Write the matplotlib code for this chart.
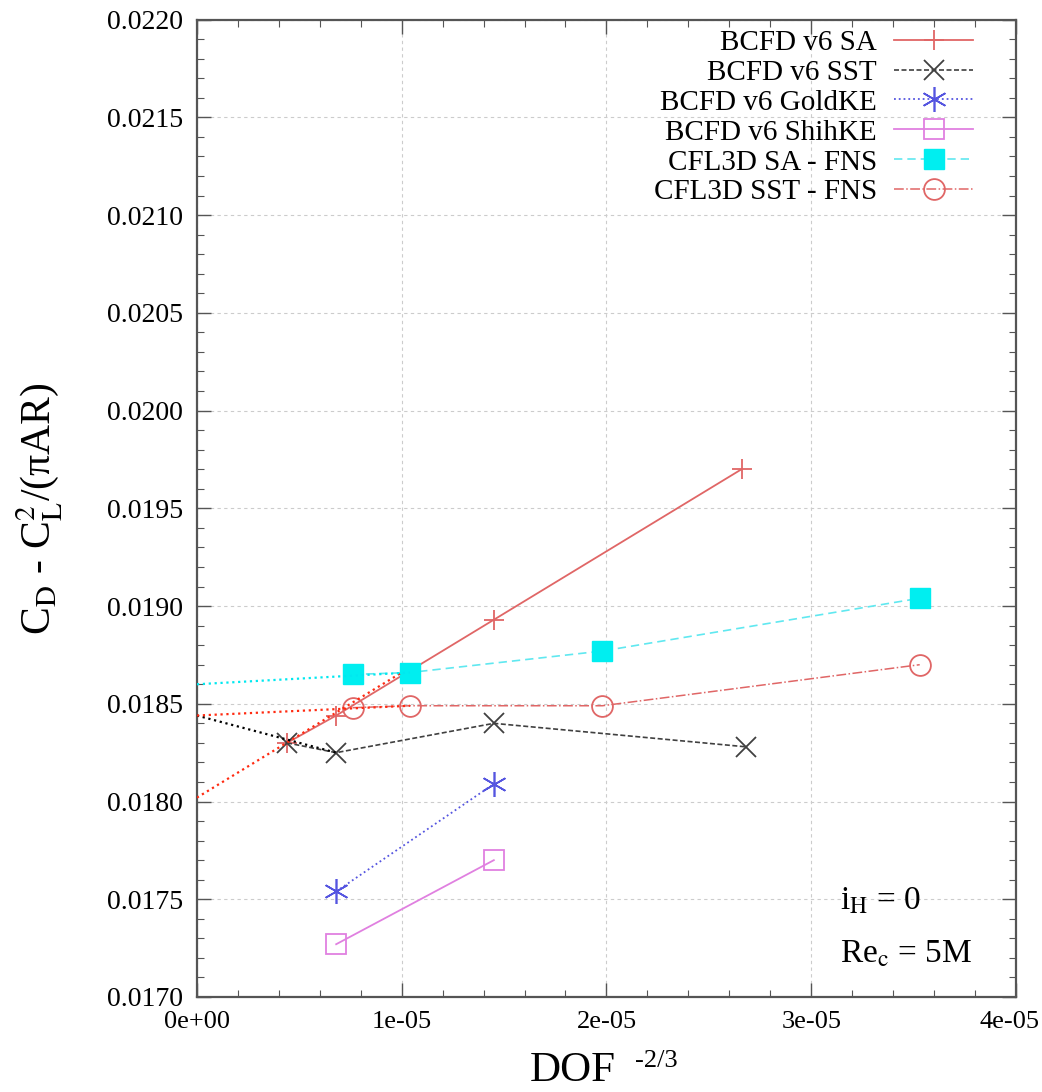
import numpy as np
import matplotlib
matplotlib.use("Agg")
import matplotlib.pyplot as plt
import matplotlib.transforms as mtrans
from matplotlib.ticker import MultipleLocator

plt.rcParams["font.family"] = ["Liberation Serif", "DejaVu Serif"]
plt.rcParams["mathtext.fontset"] = "stix"

# ---- data --------------------------------------------------------------------
sa_x = [4.4e-6, 6.8e-6, 14.5e-6, 26.6e-6]
sa_y = [0.01830, 0.01844, 0.01893, 0.01970]
sst_x = [4.4e-6, 6.8e-6, 14.5e-6, 26.8e-6]
sst_y = [0.01830, 0.01825, 0.01840, 0.01828]
gold_x = [6.8e-6, 14.5e-6]
gold_y = [0.01754, 0.01809]
shih_x = [6.8e-6, 14.5e-6]
shih_y = [0.01727, 0.01770]
cfl_sa_x = [7.6e-6, 10.4e-6, 19.8e-6, 35.3e-6]
cfl_sa_y = [0.01865, 0.01866, 0.01877, 0.01904]
cfl_sst_x = [7.6e-6, 10.4e-6, 19.8e-6, 35.3e-6]
cfl_sst_y = [0.01848, 0.01849, 0.01849, 0.01870]

# extrapolations to zero spacing (dotted)
ext_sa_x, ext_sa_y = [0.0, 10.0e-6], [0.01802, 0.01866]
ext_sst_x, ext_sst_y = [0.0, 6.8e-6], [0.01844, 0.01825]
ext_cfl_sa_x, ext_cfl_sa_y = [0.0, 10.4e-6], [0.01860, 0.01866]
ext_cfl_sst_x, ext_cfl_sst_y = [0.0, 10.4e-6], [0.01844, 0.01849]

xticks = [0, 1e-5, 2e-5, 3e-5, 4e-5]
xtick_labels = ["0e+00", "1e-05", "2e-05", "3e-05", "4e-05"]

fig = plt.figure(figsize=(10.42, 10.92), dpi=100)
ax = fig.add_axes([0.189, 0.087, 0.786, 0.895])

ax.plot(ext_sa_x, ext_sa_y, ls=":", color="#ff2a10", lw=1.6, zorder=3)
ax.plot(ext_sst_x, ext_sst_y, ls=":", color="black", lw=1.6, zorder=3)
ax.plot(ext_cfl_sa_x, ext_cfl_sa_y, ls=":", color="#00e8f0", lw=1.6, zorder=3)
ax.plot(ext_cfl_sst_x, ext_cfl_sst_y, ls=":", color="#ff2a10", lw=1.6, zorder=3)

ax.plot(sa_x, sa_y, ls="-", color="#e06666", lw=1.3, marker="+", ms=14, mew=1.3,
        label="BCFD v6 SA")
ax.plot(sst_x, sst_y, ls=(0, (3, 1.5)), color="#404040", lw=1.2, marker="x", ms=14,
        mew=1.3, label="BCFD v6 SST")
ax.plot(gold_x, gold_y, ls=":", color="#5555e0", lw=1.3, marker=(6, 2, 0), ms=18,
        mew=1.2, label="BCFD v6 GoldKE")
ax.plot(shih_x, shih_y, ls="-", color="#e080e0", lw=1.3, marker="s", ms=14,
        mfc="none", mew=1.3, label="BCFD v6 ShihKE")
ax.plot(cfl_sa_x, cfl_sa_y, ls=(0, (5, 3)), color="#60e8f0", lw=1.2, marker="s",
        ms=14, mfc="#00eef0", mec="#00eef0", label="CFL3D SA - FNS")
ax.plot(cfl_sst_x, cfl_sst_y, ls="-.", color="#e06666", lw=1.1, marker="o", ms=15,
        mfc="none", mew=1.3, label="CFL3D SST - FNS")

ax.set_xlim(0, 4e-5)
ax.set_ylim(0.0170, 0.0220)
ax.set_xticks(xticks)
ax.set_xticklabels(xtick_labels)
ax.xaxis.set_minor_locator(MultipleLocator(2e-6))
ax.yaxis.set_major_locator(MultipleLocator(0.0005))
ax.yaxis.set_minor_locator(MultipleLocator(0.0001))
ax.yaxis.set_major_formatter(matplotlib.ticker.FormatStrFormatter("%.4f"))
ax.tick_params(which="both", direction="in", top=True, right=True, labelsize=20,
               color="#555555")
ax.tick_params(axis="x", labelsize=19)
ax.tick_params(which="major", length=10, width=1.0, pad=10)
ax.tick_params(which="minor", length=5, width=0.8)
ax.grid(True, which="major", ls=(0, (3, 3)), color="#cccccc", lw=0.8)
for s in ax.spines.values():
    s.set_color("#555555"); s.set_linewidth(1.6)

# keep the last x tick label inside the canvas
lab = ax.get_xticklabels()[-1]
lab.set_transform(lab.get_transform() + mtrans.ScaledTranslation(-6 / 100, 0, fig.dpi_scale_trans))

# x label: "DOF" with a gnuplot-style superscript
fig.text(530 / 1042, 0.010, "DOF", fontsize=31, ha="left", va="baseline")
fig.text(635 / 1042, 0.0225, "-2/3", fontsize=19, ha="left", va="baseline")
ax.set_ylabel(r"C$_\mathrm{D}$ - C$_\mathrm{L}^2$/(πAR)", fontsize=30, labelpad=30)

ax.legend(loc="upper right", bbox_to_anchor=(0.9475, 0.990), frameon=False,
          markerfirst=False, fontsize=21, handlelength=2.7, labelspacing=0.12,
          borderaxespad=0.0, handletextpad=0.6, borderpad=0.0)

ax.text(0.785, 0.09, r"i$_\mathrm{H}$ = 0", transform=ax.transAxes, fontsize=24)
ax.text(0.785, 0.035, r"Re$_\mathrm{c}$ = 5M", transform=ax.transAxes, fontsize=24)

fig.savefig("out.png", dpi=100)
